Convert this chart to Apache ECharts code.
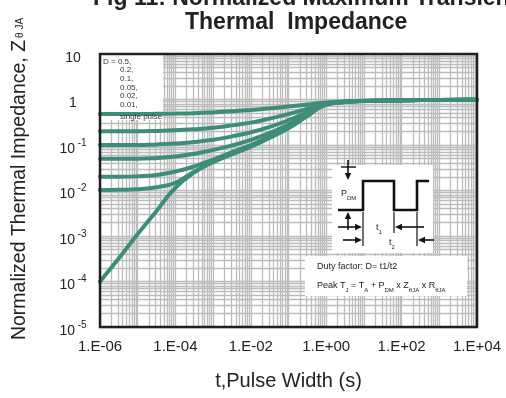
<!DOCTYPE html>
<html>
<head>
<meta charset="utf-8">
<script src="https://cdn.jsdelivr.net/npm/echarts@6/dist/echarts.min.js"></script>
<style>
html, body { margin: 0; padding: 0; background: #ffffff; }
#chart { width: 506px; height: 398px; }
</style>
</head>
<body>
<div id="chart"></div>
<script>
// Pulse widths (s) and normalized transient thermal impedance per duty factor
const pulseWidth = [1e-6, 3.2e-6, 1e-5, 3.2e-5, 1e-4, 3.2e-4, 1e-3, 3.2e-3, 1e-2, 3.2e-2, 0.1, 0.32, 1, 3.2, 10, 100, 1000, 10000];
const zD50   = [0.48, 0.48, 0.48, 0.484, 0.49, 0.50, 0.52, 0.55, 0.59, 0.64, 0.70, 0.78, 0.86, 0.905, 0.935, 0.96, 0.975, 0.985];
const zD20   = [0.20, 0.20, 0.20, 0.204, 0.21, 0.222, 0.24, 0.27, 0.31, 0.38, 0.48, 0.63, 0.83, 0.895, 0.93, 0.96, 0.975, 0.985];
const zD10   = [0.10, 0.10, 0.10, 0.103, 0.108, 0.116, 0.13, 0.155, 0.19, 0.25, 0.35, 0.53, 0.81, 0.89, 0.93, 0.96, 0.975, 0.985];
const zD05   = [0.05, 0.05, 0.05, 0.052, 0.056, 0.064, 0.078, 0.098, 0.13, 0.185, 0.28, 0.48, 0.79, 0.89, 0.93, 0.96, 0.975, 0.985];
const zD02   = [0.020, 0.020, 0.0205, 0.022, 0.026, 0.034, 0.048, 0.07, 0.10, 0.155, 0.25, 0.455, 0.78, 0.885, 0.93, 0.96, 0.975, 0.985];
const zD01   = [0.0103, 0.0104, 0.0107, 0.0118, 0.0148, 0.026, 0.043, 0.065, 0.094, 0.147, 0.237, 0.442, 0.775, 0.88, 0.93, 0.96, 0.975, 0.985];
const zSingle = [1e-4, 3.3e-4, 1.1e-3, 3.6e-3, 0.0115, 0.025, 0.042, 0.063, 0.092, 0.145, 0.235, 0.44, 0.77, 0.88, 0.93, 0.96, 0.975, 0.985];

const curveNames = ['D=0.5', 'D=0.2', 'D=0.1', 'D=0.05', 'D=0.02', 'D=0.01', 'single pulse'];
const curveValues = [zD50, zD20, zD10, zD05, zD02, zD01, zSingle];

// Legend text block (upper-left corner of the plot)
const dutyLabels = ['D = 0.5,', '0.2,', '0.1,', '0.05,', '0.02,', '0.01,', 'single pulse'];

// Axis ranges (log10 decades)
const xMin = 1e-6, xMax = 1e4;
const yMin = 1e-5, yMax = 10;

const FONT = '"Liberation Sans", Arial, sans-serif';
const TEAL = '#3e8c7a';
const GRID_GRAY = '#bcbcbc';
const FRAME = '#231f20';

const chart = echarts.init(document.getElementById('chart'), null, { renderer: 'canvas' });

function expOf(v) { return Math.round(Math.log10(v)); }

function xLabel(v) {
  const e = expOf(v);
  if (e % 2 !== 0) return '';
  const s = e < 0 ? '-' : '+';
  const a = Math.abs(e);
  return '1.E' + s + (a < 10 ? '0' + a : '' + a);
}

function yLabel(v) {
  const e = expOf(v);
  if (e === 1) return '{b|10}';
  if (e === 0) return '{b|1}';
  return '{b|10}{s| ' + e + '}';
}

// Arrow: shaft from (x1,y1) to the tip at (x2,y2)
function arrow(x1, y1, x2, y2) {
  const dx = x2 - x1, dy = y2 - y1;
  const len = Math.sqrt(dx * dx + dy * dy);
  const ux = dx / len, uy = dy / len;
  const hl = 7, hw = 3.2;
  const bx = x2 - ux * hl, by = y2 - uy * hl;
  return [
    { type: 'line', shape: { x1: x1, y1: y1, x2: bx, y2: by }, style: { stroke: '#111', lineWidth: 1.6 }, z: 20 },
    { type: 'polygon', shape: { points: [[x2, y2], [bx - uy * hw, by + ux * hw], [bx + uy * hw, by - ux * hw]] }, style: { fill: '#111' }, z: 20 }
  ];
}

const legendGraphics = [
  { type: 'rect', shape: { x: 101, y: 55, width: 62, height: 65 }, style: { fill: '#ffffff' }, z: 1 }
].concat(dutyLabels.map(function (t, i) {
  return {
    type: 'text', x: i === 0 ? 103 : 120, y: i < 6 ? 61.5 + i * 8.6 : 117,
    style: { text: t, font: '8px ' + FONT, fill: '#333333', verticalAlign: 'middle' }, z: 6
  };
}));

const pulsePath = {
  type: 'polyline',
  shape: { points: [[338, 210], [363, 210], [363, 181], [394, 181], [394, 210], [417, 210], [417, 181], [429, 181]] },
  style: { stroke: '#111', lineWidth: 2.6, fill: null },
  z: 20
};

const subRich = {
  b: { fontSize: 9, fontFamily: FONT, lineHeight: 14, fill: '#222' },
  s: { fontSize: 6, fontFamily: FONT, lineHeight: 8, verticalAlign: 'bottom', fill: '#222' }
};

const insetGraphics = [
  { type: 'rect', shape: { x: 332, y: 165, width: 101, height: 88 }, style: { fill: '#ffffff' }, z: 19 },
  { type: 'rect', shape: { x: 305, y: 256, width: 162, height: 40 }, style: { fill: '#ffffff' }, z: 19 },
  pulsePath,
  { type: 'line', shape: { x1: 341, y1: 167, x2: 356, y2: 167 }, style: { stroke: '#111', lineWidth: 1.4 }, z: 20 },
  { type: 'line', shape: { x1: 363, y1: 212, x2: 363, y2: 246 }, style: { stroke: '#111', lineWidth: 1.2 }, z: 20 },
  { type: 'line', shape: { x1: 394, y1: 212, x2: 394, y2: 233 }, style: { stroke: '#111', lineWidth: 1.2 }, z: 20 },
  { type: 'line', shape: { x1: 417, y1: 212, x2: 417, y2: 246 }, style: { stroke: '#111', lineWidth: 1.2 }, z: 20 },
  { type: 'text', x: 341, y: 194, style: { text: '{b|P}{s|DM}', rich: subRich, verticalAlign: 'middle' }, z: 20 },
  { type: 'text', x: 376, y: 228, style: { text: '{b|t}{s|1}', rich: subRich, verticalAlign: 'middle' }, z: 20 },
  { type: 'text', x: 389, y: 243, style: { text: '{b|t}{s|2}', rich: subRich, verticalAlign: 'middle' }, z: 20 },
  { type: 'text', x: 317, y: 267, style: { text: 'Duty factor: D= t1/t2', font: '9px ' + FONT, fill: '#222', verticalAlign: 'middle' }, z: 20 },
  { type: 'text', x: 317, y: 286, style: { text: '{b|Peak T}{s|J}{b| = T}{s|A}{b| + P}{s|DM}{b| x Z}{s|θJA}{b| x R}{s|θJA}', rich: subRich, verticalAlign: 'middle' }, z: 20 }
]
  .concat(arrow(348, 160, 348, 180))
  .concat(arrow(348, 230, 348, 212))
  .concat(arrow(338, 227, 362, 227))
  .concat(arrow(424, 227, 395, 227))
  .concat(arrow(343, 240, 362, 240))
  .concat(arrow(434, 240, 418, 240));

const yNameGraphic = {
  type: 'text', x: 20, y: 179, rotation: Math.PI / 2,
  style: {
    text: '{m|Normalized Thermal Impedance, Z}{s|θ JA}',
    align: 'center', verticalAlign: 'middle',
    rich: {
      m: { fontSize: 19.5, fontFamily: FONT, fill: '#222', lineHeight: 22 },
      s: { fontSize: 10, fontFamily: FONT, fill: '#222', lineHeight: 22, padding: [0, 0, 0, 2] }
    }
  },
  z: 5
};

const frameGraphic = {
  type: 'rect', shape: { x: 100, y: 54, width: 377, height: 273 },
  style: { fill: null, stroke: FRAME, lineWidth: 2.5 }, z: 30
};

const option = {
  backgroundColor: '#ffffff',
  animation: false,
  title: [
    { text: 'Fig 11: Normalized Maximum Transient', left: 93, top: -13, padding: 0,
      textStyle: { fontFamily: FONT, fontWeight: 'bold', fontSize: 23, color: '#222' } },
    { text: 'Thermal  Impedance', left: 185, top: 11, padding: 0,
      textStyle: { fontFamily: FONT, fontWeight: 'bold', fontSize: 23, color: '#222' } }
  ],
  grid: { left: 100, right: 29, top: 54, bottom: 71, show: false },
  xAxis: {
    type: 'log', logBase: 10, min: xMin, max: xMax, interval: 1,
    name: 't,Pulse Width (s)', nameLocation: 'middle', nameGap: 44,
    nameTextStyle: { fontFamily: FONT, fontSize: 20, color: '#222' },
    axisLine: { show: false },
    axisTick: { show: false },
    axisLabel: { formatter: xLabel, margin: 12, fontFamily: FONT, fontSize: 15, color: '#222', showMinLabel: true, showMaxLabel: true, hideOverlap: false },
    splitLine: { show: true, lineStyle: { color: GRID_GRAY, width: 1.3 } },
    minorTick: { show: false, splitNumber: 9 },
    minorSplitLine: { show: true, lineStyle: { color: GRID_GRAY, width: 1.3 } }
  },
  yAxis: {
    type: 'log', logBase: 10, min: yMin, max: yMax, interval: 1,
    axisLine: { show: false },
    axisTick: { show: false },
    axisLabel: {
      formatter: yLabel, align: 'center', margin: 27,
      rich: {
        b: { fontFamily: FONT, fontSize: 14, color: '#222', lineHeight: 14, padding: [8, 0, 0, 0] },
        s: { fontFamily: FONT, fontSize: 10, color: '#222', lineHeight: 10, verticalAlign: 'top' }
      }
    },
    splitLine: { show: true, lineStyle: { color: GRID_GRAY, width: 1.3 } },
    minorTick: { show: false, splitNumber: 9 },
    minorSplitLine: { show: true, lineStyle: { color: GRID_GRAY, width: 1.3 } }
  },
  graphic: [frameGraphic, yNameGraphic].concat(legendGraphics).concat(insetGraphics),
  series: curveValues.map(function (vals, k) {
    return {
      name: curveNames[k],
      type: 'line',
      data: pulseWidth.map(function (t, i) { return [t, vals[i]]; }),
      smooth: 0.5,
      showSymbol: false,
      symbol: 'none',
      clip: true,
      z: 3,
      lineStyle: { color: TEAL, width: 4, cap: 'round' },
      emphasis: { disabled: true }
    };
  })
};

chart.setOption(option);
</script>
</body>
</html>
